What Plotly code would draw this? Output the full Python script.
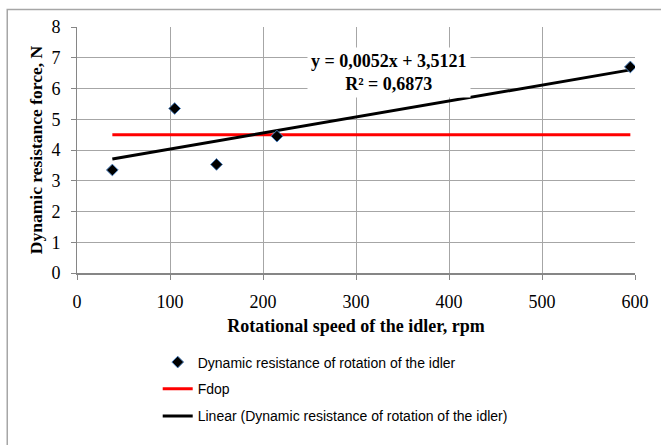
import plotly.graph_objects as go

# Data
speed_rpm = [38, 105, 150, 215, 595]
resistance_N = [3.35, 5.35, 3.53, 4.45, 6.70]
fdop_value = 4.5
trend_slope = 0.0052
trend_intercept = 3.5121
trend_label = "y = 0,0052x + 3,5121<br>R² = 0,6873"
x_ticks = [0, 100, 200, 300, 400, 500, 600]
y_ticks = [0, 1, 2, 3, 4, 5, 6, 7, 8]

x_ends = [min(speed_rpm), max(speed_rpm)]
trend_y = [trend_slope * v + trend_intercept for v in x_ends]

serif = "Liberation Serif, Times New Roman, serif"
sans = "Liberation Sans, Arial, sans-serif"

fig = go.Figure()
fig.add_trace(go.Scatter(
    x=x_ends, y=[fdop_value, fdop_value], mode="lines",
    line=dict(color="#ff0000", width=3), name="Fdop", legend="legend2"))
fig.add_trace(go.Scatter(
    x=x_ends, y=trend_y, mode="lines",
    line=dict(color="#000000", width=3),
    name="Linear (Dynamic resistance of rotation of the idler)", legend="legend3"))
fig.add_trace(go.Scatter(
    x=speed_rpm, y=resistance_N, mode="markers",
    marker=dict(symbol="diamond", size=9, color="#000000",
                line=dict(color="#4a7ebb", width=1)),
    name="Dynamic resistance of rotation of the idler", legend="legend"))

fig.add_annotation(
    x=336, y=6.53, xref="x", yref="y", text=trend_label, showarrow=False,
    font=dict(family=serif, size=18, color="#000000", weight="bold"),
    bgcolor="#ffffff", borderpad=3, align="center")

# outer chart frame
fig.add_shape(type="rect", xref="paper", yref="paper",
              x0=-0.125, x1=1.3, y0=-0.8, y1=1.071,
              line=dict(color="#a6a6a6", width=1.5), layer="below")

legend_common = dict(xanchor="left", yanchor="middle", bgcolor="rgba(0,0,0,0)",
                     font=dict(family=sans, size=14, color="#000000"),
                     itemclick=False)

fig.update_layout(
    width=661, height=445,
    margin=dict(l=77, r=24, t=27, b=165),
    paper_bgcolor="#ffffff", plot_bgcolor="#ffffff",
    showlegend=True,
    legend=dict(x=(158 - 77) / 560, y=(280 - 372) / 253, **legend_common),
    legend2=dict(x=(158 - 77) / 560, y=(280 - 399.5) / 253, **legend_common),
    legend3=dict(x=(158 - 77) / 560, y=(280 - 427.5) / 253, **legend_common),
    xaxis=dict(
        range=[0, 600], tickvals=x_ticks, showgrid=True, gridcolor="#a6a6a6",
        gridwidth=1, zeroline=False, showline=True, linecolor="#868686", linewidth=2,
        ticks="outside", ticklen=5, tickcolor="#868686", ticklabelstandoff=6,
        tickfont=dict(family=serif, size=18, color="#000000"),
        title=dict(text="Rotational speed of the idler, rpm", standoff=9,
                   font=dict(family=serif, size=18, color="#000000", weight="bold")),
        mirror=False),
    yaxis=dict(
        range=[0, 8], tickvals=y_ticks, showgrid=True, gridcolor="#a6a6a6",
        gridwidth=1, zeroline=False, showline=True, linecolor="#868686", linewidth=1,
        ticks="outside", ticklen=5, tickcolor="#868686", ticklabelstandoff=7,
        tickfont=dict(family=serif, size=18, color="#000000"),
        title=dict(text="Dynamic resistance force, N", standoff=4,
                   font=dict(family=serif, size=17.5, color="#000000", weight="bold"))),
)

fig.write_html("out.html")
